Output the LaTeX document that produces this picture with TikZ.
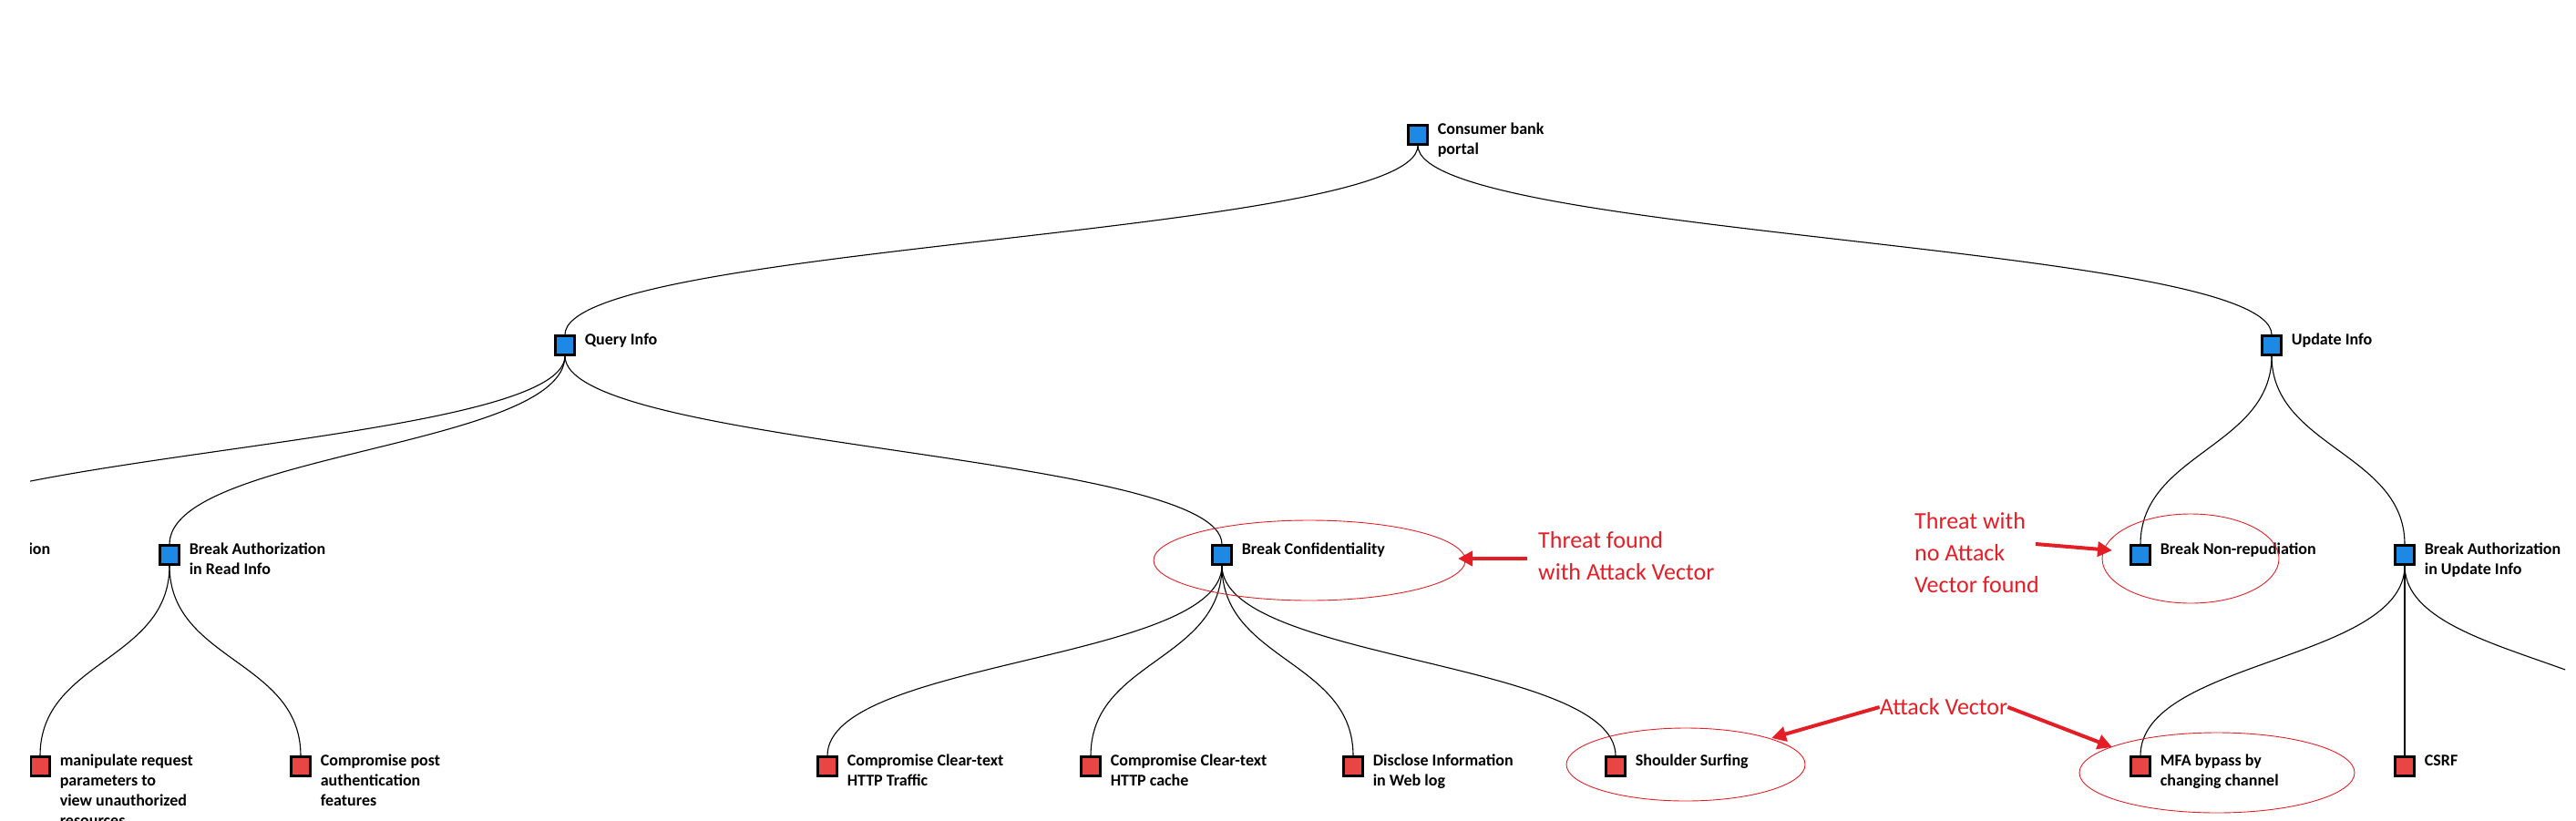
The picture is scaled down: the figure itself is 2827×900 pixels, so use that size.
\documentclass[tikz,border=0pt]{standalone}
\usepackage{fontspec}
\setmainfont{Carlito}
\usetikzlibrary{arrows.meta}
\definecolor{nblue}{RGB}{30,136,229}
\definecolor{nred}{RGB}{232,69,69}
\definecolor{ared}{RGB}{228,30,38}
\tikzset{
  sq/.style={draw=black,line width=2.2pt,minimum size=21pt,inner sep=0pt},
  bsq/.style={sq,fill=nblue},
  rsq/.style={sq,fill=nred},
  lbl/.style={anchor=north west,inner sep=0pt,align=left,font=\bfseries\fontsize{18}{22}\selectfont},
  edge/.style={draw=black,line width=1.1pt},
  ring/.style={draw=ared,line width=0.9pt},
  note/.style={text=ared,align=left,inner sep=0pt,font=\fontsize{26}{35}\selectfont},
  arr/.style={draw=ared,line width=4pt,-{Triangle[length=16pt,width=16pt]}}
}
\newcommand{\tnode}[5]{\node[#1] (#2) at (#3) {};\node[lbl] (#2t) at ([xshift=10pt,yshift=13pt]#2.east) {#4};}
\newcommand{\link}[3]{\path[edge] (#1.south) .. controls +(0,#3) and +(0,-#3) .. (#2.north);}
\begin{document}
\begin{tikzpicture}[x=1pt,y=-1pt]
\useasboundingbox (0,0) rectangle (2827,900);
\begin{scope}
\clip (33,0) rectangle (2815,900);
\tnode{bsq}{root}{1556,148}{Consumer bank\\portal}{}
\tnode{bsq}{query}{620,379}{Query Info}{}
\tnode{bsq}{update}{2493,379}{Update Info}{}
\tnode{bsq}{bauth}{-125,609}{Break Authentication}{}
\tnode{bsq}{bread}{186,609}{Break Authorization\\in Read Info}{}
\tnode{bsq}{bconf}{1341,609}{Break Confidentiality}{}
\tnode{bsq}{bnon}{2349,609}{Break Non-repudiation}{}
\tnode{bsq}{bupd}{2639,609}{Break Authorization\\in Update Info}{}
\tnode{rsq}{manip}{44,841}{manipulate request\\parameters to\\view unauthorized\\resources}{}
\tnode{rsq}{cpost}{330,841}{Compromise post\\authentication\\features}{}
\tnode{rsq}{ctraf}{908,841}{Compromise Clear-text\\HTTP Traffic}{}
\tnode{rsq}{ccache}{1197,841}{Compromise Clear-text\\HTTP cache}{}
\tnode{rsq}{disc}{1485,841}{Disclose Information\\in Web log}{}
\tnode{rsq}{shoul}{1773,841}{Shoulder Surfing}{}
\tnode{rsq}{mfa}{2349,841}{MFA bypass by\\changing channel}{}
\tnode{rsq}{csrf}{2639,841}{CSRF}{}
\tnode{rsq}{offr}{2935,841}{}{}
\link{root}{query}{100}
\link{root}{update}{100}
\link{query}{bauth}{100}
\link{query}{bread}{100}
\link{query}{bconf}{100}
\link{update}{bnon}{100}
\link{update}{bupd}{100}
\link{bread}{manip}{105}
\link{bread}{cpost}{105}
\link{bconf}{ctraf}{105}
\link{bconf}{ccache}{105}
\link{bconf}{disc}{105}
\link{bconf}{shoul}{105}
\link{bupd}{mfa}{105}
\path[edge] (bupd.south) -- (csrf.north);
\link{bupd}{offr}{105}
\end{scope}
% annotations
\draw[ring] (1437,615) ellipse [x radius=171, y radius=44];
\draw[ring] (2404,613) ellipse [x radius=97, y radius=49];
\draw[ring] (1850,839) ellipse [x radius=131, y radius=40];
\draw[ring] (2433,848) ellipse [x radius=151, y radius=44];
\node[note,anchor=west] (n1) at (1688,610) {Threat found\\with Attack Vector};
\node[note,anchor=west] (n2) at (2101,607) {Threat with\\no Attack\\Vector found};
\node[note] (n3) at (2133,776) {Attack Vector};
\coordinate (t1) at (1600,613);
\coordinate (t2) at (2318,604);
\coordinate (t3) at (1944,810);
\coordinate (t4) at (2318,820);
\draw[arr] ([xshift=-12pt,yshift=-3pt]n1.west) -- (t1);
\draw[arr] (2234,597) -- (t2);
\draw[arr] (n3.west) -- (t3);
\draw[arr] (n3.east) -- (t4);
\end{tikzpicture}
\end{document}
